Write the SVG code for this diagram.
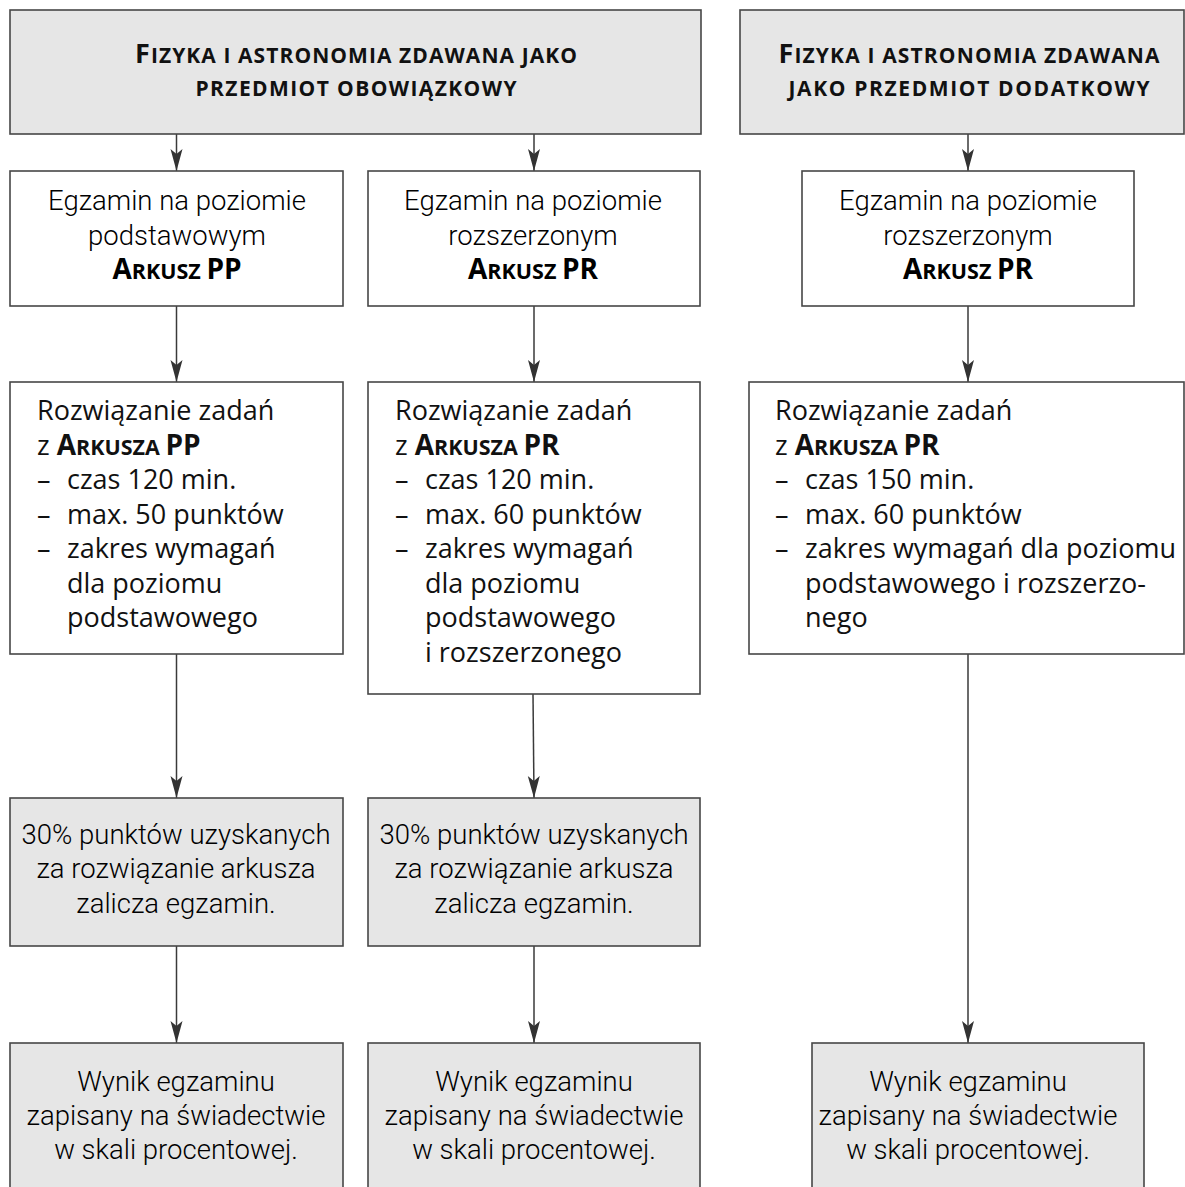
<svg xmlns="http://www.w3.org/2000/svg" width="1185" height="1187" viewBox="0 0 1185 1187">
<style>
.box{fill:#ffffff;stroke:#474747;stroke-width:1.6}
.gray{fill:#e6e6e6;stroke:#474747;stroke-width:1.6}
.hd{font-family:"Open Sans",Lato,sans-serif;font-weight:700;font-size:21px;fill:#111;text-anchor:middle}
.big{font-size:27px}
.lt{font-family:Roboto,"Liberation Sans",sans-serif;font-weight:300;font-size:27.5px;fill:#000;text-anchor:middle}
.gs{font-family:"Open Sans",Lato,sans-serif;font-weight:400;font-size:27px;fill:#111}
.bsc{font-family:"Open Sans",Lato,sans-serif;font-weight:700;font-size:21.5px}
.bcap{font-size:28px}
.con{stroke:#3a3a3a;stroke-width:1.5;fill:none;marker-end:url(#ah)}
</style>
<defs>
<marker id="ah" markerUnits="userSpaceOnUse" markerWidth="24" markerHeight="14" refX="22" refY="7" orient="auto" viewBox="0 0 24 14">
<path d="M0,1 L22,7 L0,13 L5,7 Z" fill="#333"/>
</marker>
</defs>
<rect width="1185" height="1187" fill="#ffffff"/>

<g id="connectors">
<line class="con" x1="176.5" y1="134" x2="176.5" y2="171"/>
<line class="con" x1="534" y1="134" x2="534" y2="171"/>
<line class="con" x1="968" y1="134" x2="968" y2="171"/>
<line class="con" x1="176.5" y1="306" x2="176.5" y2="382"/>
<line class="con" x1="534" y1="306" x2="534" y2="382"/>
<line class="con" x1="968" y1="306" x2="968" y2="382"/>
<line class="con" x1="176.5" y1="654" x2="176.5" y2="798"/>
<line class="con" x1="533" y1="694" x2="534" y2="798"/>
<line class="con" x1="176.5" y1="946" x2="176.5" y2="1043"/>
<line class="con" x1="534" y1="946" x2="534" y2="1043"/>
<line class="con" x1="968" y1="654" x2="968" y2="1043"/>
</g>

<g id="header1">
<rect class="gray" x="10" y="10" width="691" height="124"/>
<text class="hd" x="356" y="63" textLength="442"><tspan class="big">F</tspan>IZYKA I ASTRONOMIA ZDAWANA JAKO</text>
<text class="hd" x="356" y="96" textLength="321">PRZEDMIOT OBOWIĄZKOWY</text>
</g>
<g id="header2">
<rect class="gray" x="740" y="10" width="444" height="124"/>
<text class="hd" x="969" y="63" textLength="381"><tspan class="big">F</tspan>IZYKA I ASTRONOMIA ZDAWANA</text>
<text class="hd" x="969" y="96" textLength="361">JAKO PRZEDMIOT DODATKOWY</text>
</g>

<g id="exam-pp">
<rect class="box" x="10" y="171" width="333" height="135"/>
<text class="lt" x="177" y="210">Egzamin na poziomie</text>
<text class="lt" x="177" y="245">podstawowym</text>
<text class="bsc" x="177" y="279" text-anchor="middle"><tspan class="bcap">A</tspan>RKUSZ <tspan class="bcap">PP</tspan></text>
</g>
<g id="exam-pr">
<rect class="box" x="368" y="171" width="332" height="135"/>
<text class="lt" x="533" y="210">Egzamin na poziomie</text>
<text class="lt" x="533" y="245">rozszerzonym</text>
<text class="bsc" x="533" y="279" text-anchor="middle"><tspan class="bcap">A</tspan>RKUSZ <tspan class="bcap">PR</tspan></text>
</g>
<g id="exam-pr-add">
<rect class="box" x="802" y="171" width="332" height="135"/>
<text class="lt" x="968" y="210">Egzamin na poziomie</text>
<text class="lt" x="968" y="245">rozszerzonym</text>
<text class="bsc" x="968" y="279" text-anchor="middle"><tspan class="bcap">A</tspan>RKUSZ <tspan class="bcap">PR</tspan></text>
</g>

<g id="solve-pp">
<rect class="box" x="10" y="382" width="333" height="272"/>
<text class="gs" x="37" y="420">Rozwiązanie zadań</text>
<text class="gs" x="37" y="454.5">z <tspan class="bsc bcap">A</tspan><tspan class="bsc">RKUSZA </tspan><tspan class="bsc bcap">PP</tspan></text>
<text class="gs" x="37" y="489">–</text><text class="gs" x="67" y="489">czas 120 min.</text>
<text class="gs" x="37" y="523.5">–</text><text class="gs" x="67" y="523.5">max. 50 punktów</text>
<text class="gs" x="37" y="558">–</text><text class="gs" x="67" y="558">zakres wymagań</text>
<text class="gs" x="67" y="592.5">dla poziomu</text>
<text class="gs" x="67" y="627">podstawowego</text>
</g>
<g id="solve-pr">
<rect class="box" x="368" y="382" width="332" height="312"/>
<text class="gs" x="395" y="420">Rozwiązanie zadań</text>
<text class="gs" x="395" y="454.5">z <tspan class="bsc bcap">A</tspan><tspan class="bsc">RKUSZA </tspan><tspan class="bsc bcap">PR</tspan></text>
<text class="gs" x="395" y="489">–</text><text class="gs" x="425" y="489">czas 120 min.</text>
<text class="gs" x="395" y="523.5">–</text><text class="gs" x="425" y="523.5">max. 60 punktów</text>
<text class="gs" x="395" y="558">–</text><text class="gs" x="425" y="558">zakres wymagań</text>
<text class="gs" x="425" y="592.5">dla poziomu</text>
<text class="gs" x="425" y="627">podstawowego</text>
<text class="gs" x="425" y="661.5">i rozszerzonego</text>
</g>
<g id="solve-pr-add">
<rect class="box" x="749" y="382" width="435" height="272"/>
<text class="gs" x="775" y="420">Rozwiązanie zadań</text>
<text class="gs" x="775" y="454.5">z <tspan class="bsc bcap">A</tspan><tspan class="bsc">RKUSZA </tspan><tspan class="bsc bcap">PR</tspan></text>
<text class="gs" x="775" y="489">–</text><text class="gs" x="805" y="489">czas 150 min.</text>
<text class="gs" x="775" y="523.5">–</text><text class="gs" x="805" y="523.5">max. 60 punktów</text>
<text class="gs" x="775" y="558">–</text><text class="gs" x="805" y="558">zakres wymagań dla poziomu</text>
<text class="gs" x="805" y="592.5">podstawowego i rozszerzo-</text>
<text class="gs" x="805" y="627">nego</text>
</g>

<g id="pass-pp">
<rect class="gray" x="10" y="798" width="333" height="148"/>
<text class="lt" x="176" y="844">30% punktów uzyskanych</text>
<text class="lt" x="176" y="878">za rozwiązanie arkusza</text>
<text class="lt" x="176" y="913">zalicza egzamin.</text>
</g>
<g id="pass-pr">
<rect class="gray" x="368" y="798" width="332" height="148"/>
<text class="lt" x="534" y="844">30% punktów uzyskanych</text>
<text class="lt" x="534" y="878">za rozwiązanie arkusza</text>
<text class="lt" x="534" y="913">zalicza egzamin.</text>
</g>

<g id="result-pp">
<rect class="gray" x="10" y="1043" width="333" height="160"/>
<text class="lt" x="176" y="1091">Wynik egzaminu</text>
<text class="lt" x="176" y="1125">zapisany na świadectwie</text>
<text class="lt" x="176" y="1159">w skali procentowej.</text>
</g>
<g id="result-pr">
<rect class="gray" x="368" y="1043" width="332" height="160"/>
<text class="lt" x="534" y="1091">Wynik egzaminu</text>
<text class="lt" x="534" y="1125">zapisany na świadectwie</text>
<text class="lt" x="534" y="1159">w skali procentowej.</text>
</g>
<g id="result-add">
<rect class="gray" x="812" y="1043" width="332" height="160"/>
<text class="lt" x="968" y="1091">Wynik egzaminu</text>
<text class="lt" x="968" y="1125">zapisany na świadectwie</text>
<text class="lt" x="968" y="1159">w skali procentowej.</text>
</g>
</svg>
